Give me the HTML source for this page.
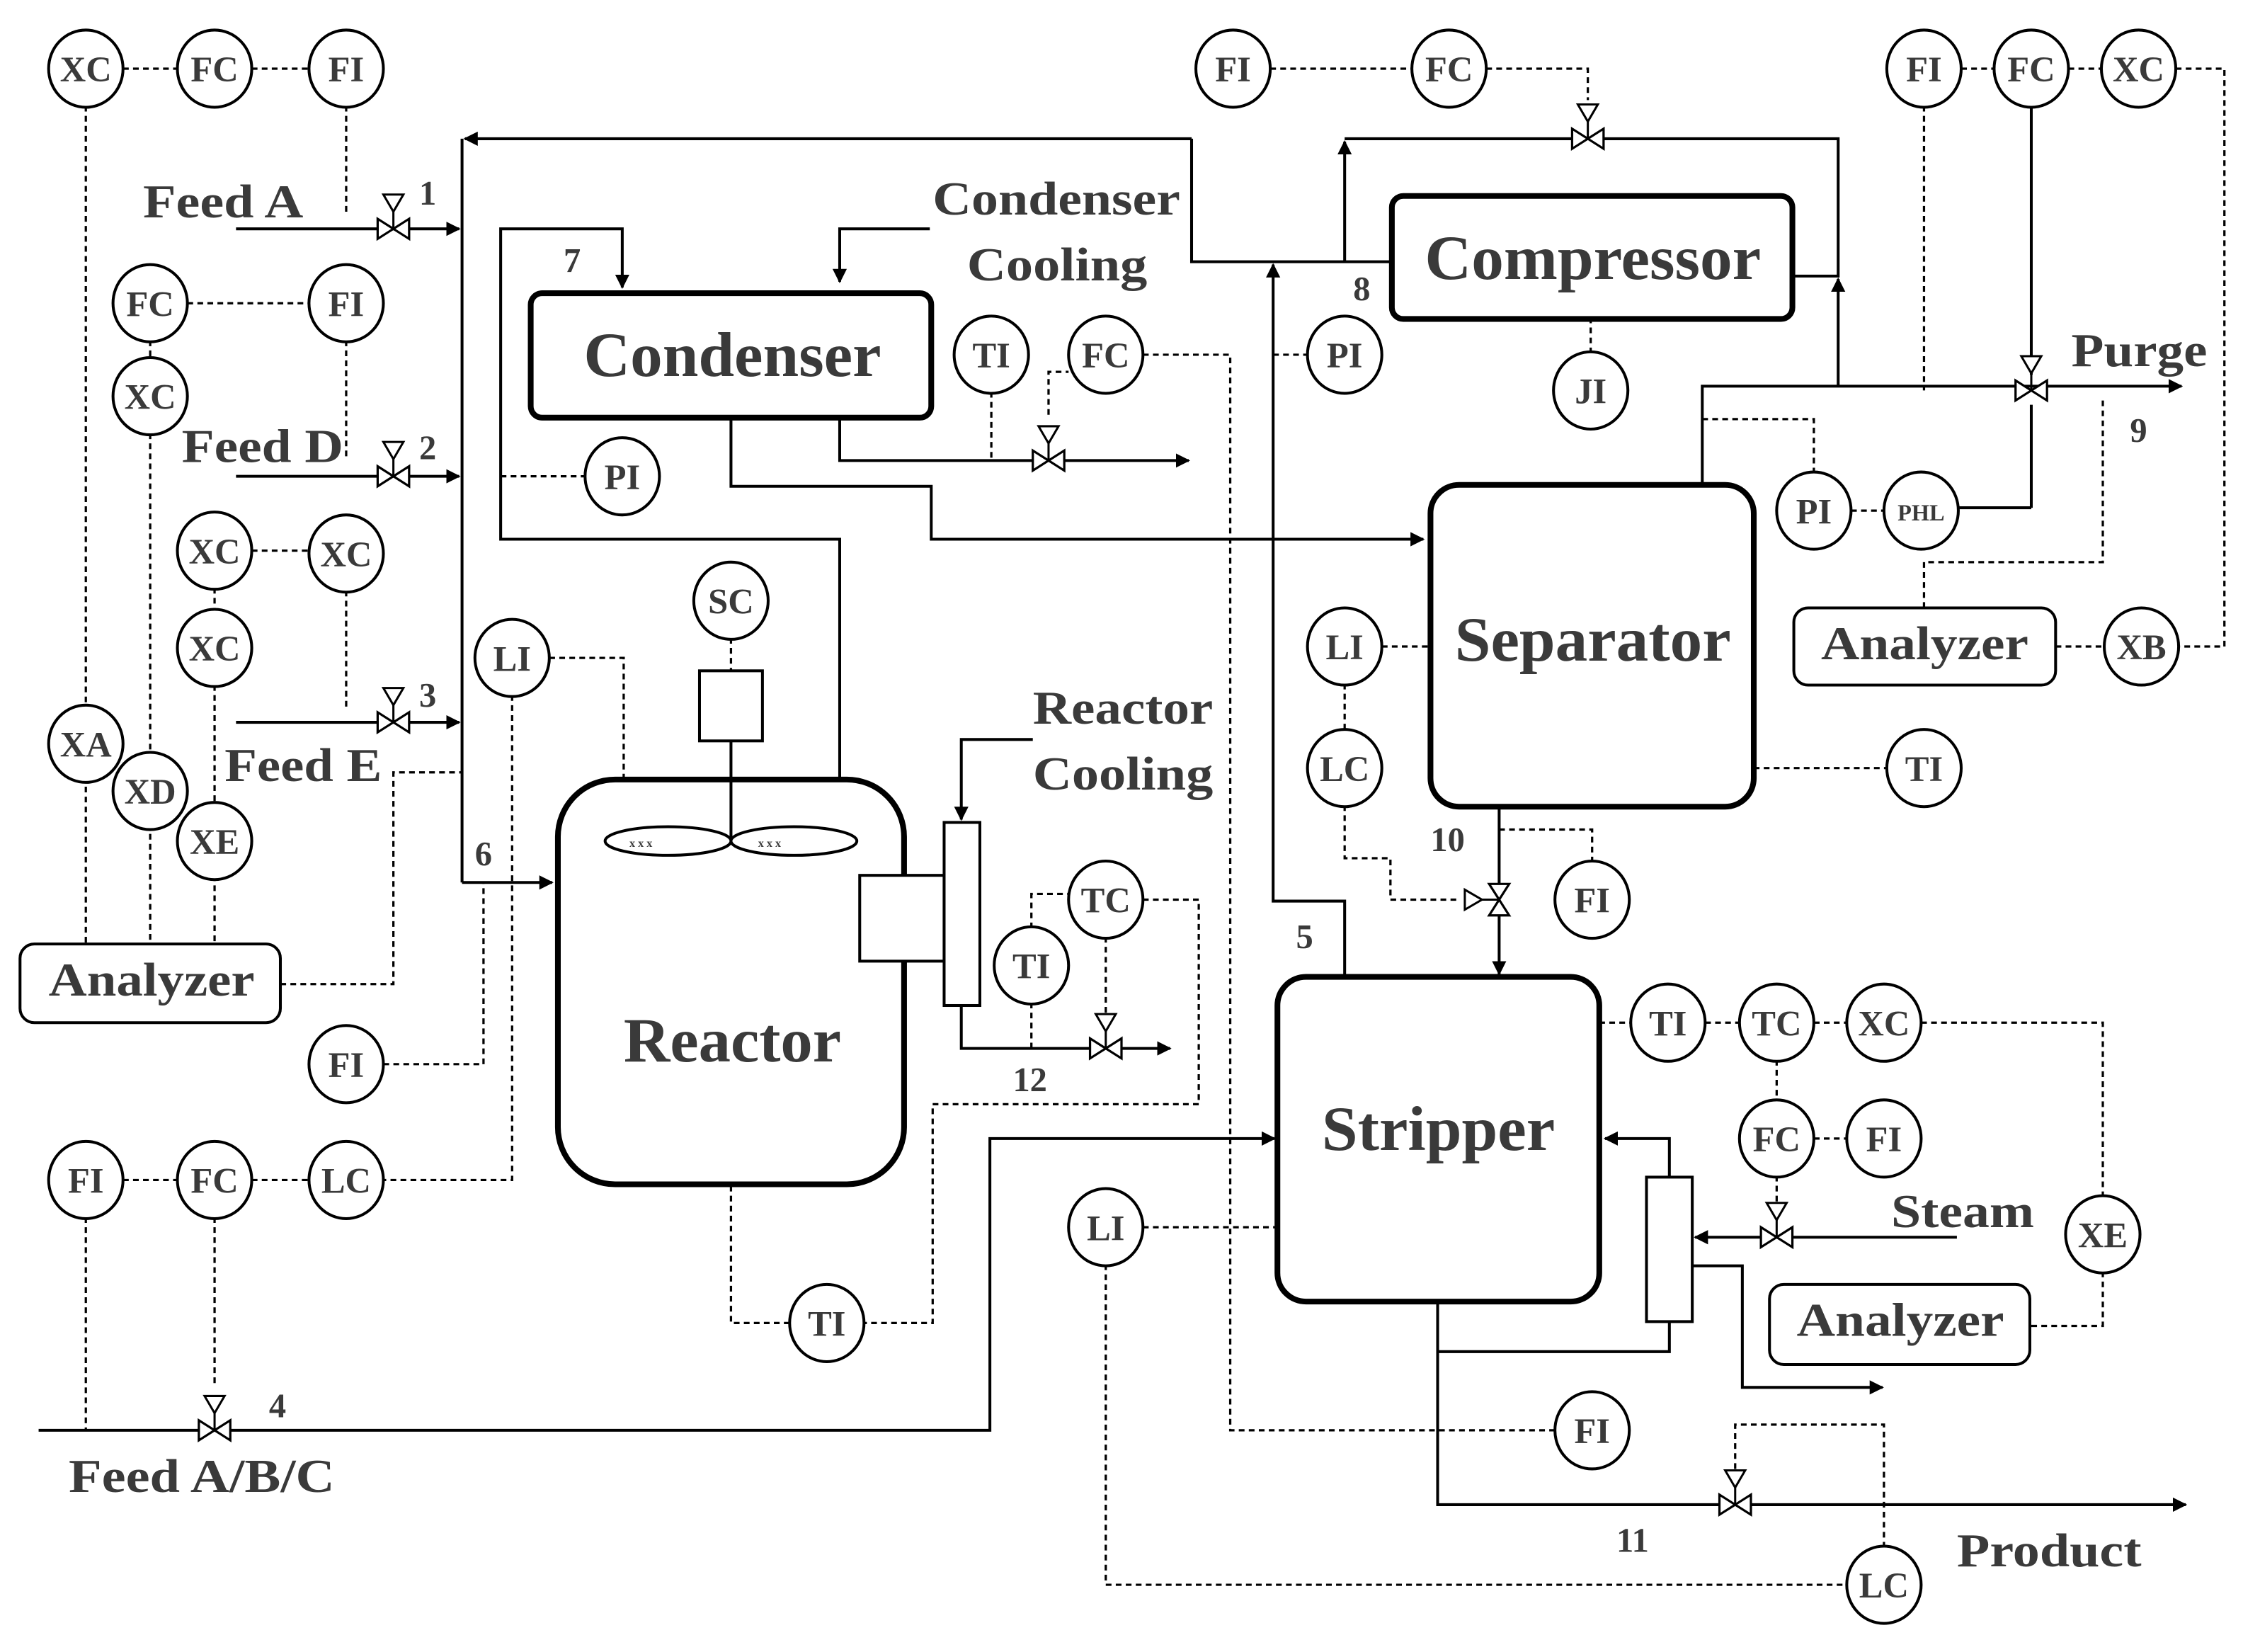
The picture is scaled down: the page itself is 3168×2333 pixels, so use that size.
<!DOCTYPE html>
<html><head><meta charset="utf-8"><style>
html,body{margin:0;padding:0;background:#fff;}
svg{display:block;}
text{font-family:"Liberation Serif",serif;font-weight:bold;fill:#3a3a3a;}
</style></head><body>
<svg width="3168" height="2333" viewBox="0 0 1568 1155" preserveAspectRatio="none" xmlns="http://www.w3.org/2000/svg">
<defs>
<marker id="a" markerWidth="10" markerHeight="10" refX="9" refY="5" orient="auto" markerUnits="userSpaceOnUse"><path d="M0,0 L10,5 L0,10 Z" fill="#000"/></marker>
<g id="v"><path d="M-11,-7 L-11,7 L0,0 Z M11,-7 L11,7 L0,0 Z" fill="#fff" stroke="#000" stroke-width="1.6"/><line x1="0" y1="0" x2="0" y2="-12" stroke="#000" stroke-width="1.5"/><path d="M-7,-24 L7,-24 L0,-12 Z" fill="#fff" stroke="#000" stroke-width="1.5"/></g>
</defs>

<g fill="none" stroke="#000" stroke-width="1.6" stroke-dasharray="4,3">
<path d="M86,48 H124 M176,48 H216"/>
<path d="M60,74 V660 M105,303 V660 M150,479 V660 M242,74 V150"/>
<path d="M131,212 H216 M242,238 V322 M105,238 V251"/>
<path d="M176,385 H216 M242,413 V495 M150,411 V427"/>
<path d="M196,688 H275 V540 H323"/>
<path d="M384,460 H436 V545 M358,486 V825 H268 M268,744 H338 V617"/>
<path d="M350,333 H409"/>
<path d="M511,446 V469"/>
<path d="M693,274 V322 M733,290 V260 H747 M799,248 H860 V1000 H1087"/>
<path d="M888,48 H987 M1039,48 H1110 V70"/>
<path d="M890,248 H914"/>
<path d="M1112,247 V223"/>
<path d="M1371,48 H1394 M1446,48 H1469 M1521,48 H1555 V452 H1523 M1345,74 V273"/>
<path d="M1190,293 H1268 V331 M1294,357 H1317"/>
<path d="M1437,452 H1471 M1345,425 V393 H1470 V280"/>
<path d="M966,452 H1000 M940,478 V511 M940,563 V600 H972 V629 H1020"/>
<path d="M1226,537 H1319"/>
<path d="M1048,580 H1113 V603"/>
<path d="M721,649 V625 H747 M799,629 H838 V772 H652 V925 H604 M773,655 V712 M721,701 V733"/>
<path d="M552,925 H511 V828"/>
<path d="M86,825 H124 M176,825 H216 M60,851 V1000 M150,851 V970"/>
<path d="M799,858 H893 M773,884 V1108 H1291"/>
<path d="M1118,715 H1140 M1192,715 H1216 M1268,715 H1291 M1343,715 H1470 V837 M1470,889 V927 H1419"/>
<path d="M1242,741 V770 M1268,796 H1291 M1242,822 V842"/>
<path d="M1317,1082 V996 H1213 V1028"/>
</g>

<g fill="none" stroke="#000" stroke-width="2">
<path d="M323,617 V97" />
<path d="M833,97 H325" marker-end="url(#a)"/>
<path d="M833,97 V183 H973"/>
<path d="M165,160 H321" marker-end="url(#a)"/>
<path d="M165,333 H321" marker-end="url(#a)"/>
<path d="M165,505 H321" marker-end="url(#a)"/>
<path d="M323,617 H386" marker-end="url(#a)"/>
<path d="M587,545 V377 H350 V160 H435 V201" marker-end="url(#a)"/>
<path d="M650,160 H587 V197" marker-end="url(#a)"/>
<path d="M587,292 V322 H831" marker-end="url(#a)"/>
<path d="M511,292 V340 H651 V377 H995" marker-end="url(#a)"/>
<path d="M940,683 V630 H890 V185" marker-end="url(#a)"/>
<path d="M940,183 V99" marker-end="url(#a)"/>
<path d="M940,97 H1285 V193 H1253"/>
<path d="M1190,339 V270 H1525" marker-end="url(#a)"/>
<path d="M1285,270 V195" marker-end="url(#a)"/>
<path d="M1420,74 V262"/>
<path d="M1420,355 H1369 M1420,355 V283"/>
<path d="M1048,564 V681" marker-end="url(#a)"/>
<path d="M722,517 H672 V573" marker-end="url(#a)"/>
<path d="M672,703 V733 H818" marker-end="url(#a)"/>
<path d="M27,1000 H692 V796 H891" marker-end="url(#a)"/>
<path d="M1368,865 H1185" marker-end="url(#a)"/>
<path d="M1167,823 V796 H1122" marker-end="url(#a)"/>
<path d="M1183,885 H1218 V970 H1316" marker-end="url(#a)"/>
<path d="M1005,910 V945 H1167 V924"/>
<path d="M1005,945 V1052 H1528" marker-end="url(#a)"/>
</g>

<use href="#v" x="275" y="160"/>
<use href="#v" x="275" y="333"/>
<use href="#v" x="275" y="505"/>
<use href="#v" x="733" y="322"/>
<use href="#v" x="1110" y="97"/>
<use href="#v" x="1420" y="273"/>
<use href="#v" x="773" y="733"/>
<use href="#v" x="150" y="1000"/>
<use href="#v" x="1242" y="865"/>
<use href="#v" x="1213" y="1052"/>
<use href="#v" transform="translate(1048,629) rotate(-90)"/>

<g fill="#fff" stroke="#000">
<rect x="371" y="205" width="280" height="87" rx="8" stroke-width="4"/>
<rect x="973" y="137" width="280" height="86" rx="8" stroke-width="4"/>
<rect x="1000" y="339" width="226" height="225" rx="20" stroke-width="4"/>
<rect x="390" y="545" width="242" height="283" rx="40" stroke-width="4"/>
<rect x="893" y="683" width="225" height="227" rx="20" stroke-width="4"/>
<rect x="14" y="660" width="182" height="55" rx="10" stroke-width="2"/>
<rect x="1254" y="425" width="183" height="54" rx="10" stroke-width="2"/>
<rect x="1237" y="898" width="182" height="56" rx="10" stroke-width="2"/>
<rect x="489" y="469" width="44" height="49" stroke-width="2"/>
<rect x="601" y="612" width="59" height="60" stroke-width="2"/>
<rect x="660" y="575" width="25" height="128" stroke-width="2"/>
<rect x="1151" y="823" width="32" height="101" stroke-width="2"/>
<line x1="511" y1="518" x2="511" y2="588" stroke-width="2"/>
<ellipse cx="467" cy="588" rx="44" ry="10" stroke-width="2"/>
<ellipse cx="555" cy="588" rx="44" ry="10" stroke-width="2"/>
</g>
<g font-size="8" fill="#888"><text x="440" y="592">x x x</text><text x="530" y="592">x x x</text></g>

<g fill="#fff" stroke="#000" stroke-width="2">
<ellipse cx="60" cy="48" rx="26" ry="27"/><ellipse cx="150" cy="48" rx="26" ry="27"/><ellipse cx="242" cy="48" rx="26" ry="27"/>
<ellipse cx="105" cy="212" rx="26" ry="27"/><ellipse cx="242" cy="212" rx="26" ry="27"/>
<ellipse cx="105" cy="277" rx="26" ry="27"/>
<ellipse cx="150" cy="385" rx="26" ry="27"/><ellipse cx="242" cy="387" rx="26" ry="27"/>
<ellipse cx="150" cy="453" rx="26" ry="27"/>
<ellipse cx="60" cy="520" rx="26" ry="27"/><ellipse cx="105" cy="553" rx="26" ry="27"/><ellipse cx="150" cy="588" rx="26" ry="27"/>
<ellipse cx="358" cy="460" rx="26" ry="27"/><ellipse cx="511" cy="420" rx="26" ry="27"/>
<ellipse cx="435" cy="333" rx="26" ry="27"/>
<ellipse cx="693" cy="248" rx="26" ry="27"/><ellipse cx="773" cy="248" rx="26" ry="27"/>
<ellipse cx="940" cy="248" rx="26" ry="27"/>
<ellipse cx="862" cy="48" rx="26" ry="27"/><ellipse cx="1013" cy="48" rx="26" ry="27"/>
<ellipse cx="1345" cy="48" rx="26" ry="27"/><ellipse cx="1420" cy="48" rx="26" ry="27"/><ellipse cx="1495" cy="48" rx="26" ry="27"/>
<ellipse cx="1112" cy="273" rx="26" ry="27"/>
<ellipse cx="1268" cy="357" rx="26" ry="27"/><ellipse cx="1343" cy="357" rx="26" ry="27"/>
<ellipse cx="1497" cy="452" rx="26" ry="27"/>
<ellipse cx="940" cy="452" rx="26" ry="27"/><ellipse cx="940" cy="537" rx="26" ry="27"/>
<ellipse cx="1345" cy="537" rx="26" ry="27"/>
<ellipse cx="1113" cy="629" rx="26" ry="27"/>
<ellipse cx="773" cy="629" rx="26" ry="27"/><ellipse cx="721" cy="675" rx="26" ry="27"/>
<ellipse cx="242" cy="744" rx="26" ry="27"/>
<ellipse cx="60" cy="825" rx="26" ry="27"/><ellipse cx="150" cy="825" rx="26" ry="27"/><ellipse cx="242" cy="825" rx="26" ry="27"/>
<ellipse cx="578" cy="925" rx="26" ry="27"/>
<ellipse cx="773" cy="858" rx="26" ry="27"/>
<ellipse cx="1166" cy="715" rx="26" ry="27"/><ellipse cx="1242" cy="715" rx="26" ry="27"/><ellipse cx="1317" cy="715" rx="26" ry="27"/>
<ellipse cx="1242" cy="796" rx="26" ry="27"/><ellipse cx="1317" cy="796" rx="26" ry="27"/>
<ellipse cx="1470" cy="863" rx="26" ry="27"/>
<ellipse cx="1113" cy="1000" rx="26" ry="27"/>
<ellipse cx="1317" cy="1108" rx="26" ry="27"/>
</g>

<g font-size="25" text-anchor="middle">
<text x="60" y="57">XC</text><text x="150" y="57">FC</text><text x="242" y="57">FI</text>
<text x="105" y="221">FC</text><text x="242" y="221">FI</text>
<text x="105" y="286">XC</text>
<text x="150" y="394">XC</text><text x="242" y="396">XC</text>
<text x="150" y="462">XC</text>
<text x="60" y="529">XA</text><text x="105" y="562">XD</text><text x="150" y="597">XE</text>
<text x="358" y="469">LI</text><text x="511" y="429">SC</text>
<text x="435" y="342">PI</text>
<text x="693" y="257">TI</text><text x="773" y="257">FC</text>
<text x="940" y="257">PI</text>
<text x="862" y="57">FI</text><text x="1013" y="57">FC</text>
<text x="1345" y="57">FI</text><text x="1420" y="57">FC</text><text x="1495" y="57">XC</text>
<text x="1112" y="282">JI</text>
<text x="1268" y="366">PI</text><text x="1343" y="364" font-size="16">PHL</text>
<text x="1497" y="461">XB</text>
<text x="940" y="461">LI</text><text x="940" y="546">LC</text>
<text x="1345" y="546">TI</text>
<text x="1113" y="638">FI</text>
<text x="773" y="638">TC</text><text x="721" y="684">TI</text>
<text x="242" y="753">FI</text>
<text x="60" y="834">FI</text><text x="150" y="834">FC</text><text x="242" y="834">LC</text>
<text x="578" y="934">TI</text>
<text x="773" y="867">LI</text>
<text x="1166" y="724">TI</text><text x="1242" y="724">TC</text><text x="1317" y="724">XC</text>
<text x="1242" y="805">FC</text><text x="1317" y="805">FI</text>
<text x="1470" y="872">XE</text>
<text x="1113" y="1009">FI</text>
<text x="1317" y="1117">LC</text>
</g>

<g font-size="44" lengthAdjust="spacingAndGlyphs">
<text x="408" y="263" textLength="208" lengthAdjust="spacingAndGlyphs">Condenser</text>
<text x="996" y="195" textLength="235" lengthAdjust="spacingAndGlyphs">Compressor</text>
<text x="1017" y="462" textLength="193" lengthAdjust="spacingAndGlyphs">Separator</text>
<text x="436" y="742" textLength="152" lengthAdjust="spacingAndGlyphs">Reactor</text>
<text x="924" y="804" textLength="163" lengthAdjust="spacingAndGlyphs">Stripper</text>
</g>
<g font-size="33">
<text x="34" y="696" textLength="144" lengthAdjust="spacingAndGlyphs">Analyzer</text>
<text x="1273" y="461" textLength="145" lengthAdjust="spacingAndGlyphs">Analyzer</text>
<text x="1256" y="934" textLength="145" lengthAdjust="spacingAndGlyphs">Analyzer</text>
<text x="100" y="152" textLength="112" lengthAdjust="spacingAndGlyphs">Feed A</text>
<text x="127" y="323" textLength="113" lengthAdjust="spacingAndGlyphs">Feed D</text>
<text x="157" y="546" textLength="110" lengthAdjust="spacingAndGlyphs">Feed E</text>
<text x="48" y="1043" textLength="186" lengthAdjust="spacingAndGlyphs">Feed A/B/C</text>
<text x="652" y="150" textLength="173" lengthAdjust="spacingAndGlyphs">Condenser</text>
<text x="676" y="196" textLength="126" lengthAdjust="spacingAndGlyphs">Cooling</text>
<text x="722" y="506" textLength="126" lengthAdjust="spacingAndGlyphs">Reactor</text>
<text x="722" y="552" textLength="126" lengthAdjust="spacingAndGlyphs">Cooling</text>
<text x="1448" y="256" textLength="95" lengthAdjust="spacingAndGlyphs">Purge</text>
<text x="1322" y="858" textLength="100" lengthAdjust="spacingAndGlyphs">Steam</text>
<text x="1368" y="1095" textLength="129" lengthAdjust="spacingAndGlyphs">Product</text>
</g>
<g font-size="24">
<text x="293" y="143">1</text><text x="293" y="321">2</text><text x="293" y="494">3</text>
<text x="188" y="991">4</text><text x="906" y="663">5</text><text x="332" y="605">6</text>
<text x="394" y="190">7</text><text x="946" y="210">8</text><text x="1489" y="309">9</text>
<text x="1000" y="595">10</text><text x="1130" y="1085">11</text><text x="708" y="763">12</text>
</g>
</svg>
</body></html>
